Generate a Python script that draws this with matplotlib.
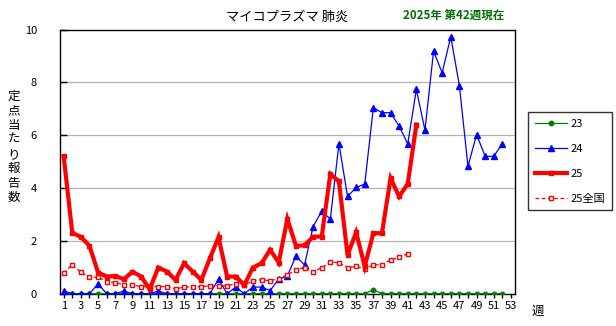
import matplotlib
matplotlib.use("Agg")
import matplotlib.pyplot as plt
import numpy as np

plt.rcParams['font.family'] = ['Noto Sans CJK JP', 'DejaVu Sans']

weeks_23 = list(range(1, 53))
vals_23 = [0]*36 + [0.15] + [0]*15

weeks_24 = list(range(1, 53))
vals_24 = [0.1, 0, 0, 0, 0.37, 0, 0, 0.1, 0, 0,
           0, 0.1, 0, 0, 0, 0, 0, 0, 0.55, 0,
           0.25, 0, 0.25, 0.25, 0.12, 0.55, 0.67, 1.42, 1.09, 2.54,
           3.13, 2.82, 5.68, 3.68, 4.02, 4.15, 7.04, 6.85, 6.85, 6.34,
           5.67, 7.73, 6.19, 9.18, 8.36, 9.73, 7.88, 4.82, 6.02, 5.20,
           5.20, 5.68]

weeks_25 = list(range(1, 43))
vals_25 = [5.2, 2.30, 2.15, 1.81, 0.80, 0.65, 0.67, 0.55, 0.83, 0.65,
           0.17, 0.99, 0.84, 0.52, 1.15, 0.84, 0.52, 1.34, 2.14, 0.65,
           0.65, 0.33, 0.99, 1.15, 1.66, 1.18, 2.83, 1.81, 1.83, 2.16,
           2.16, 4.53, 4.25, 1.47, 2.32, 1.03, 2.29, 2.29, 4.37, 3.68,
           4.16, 6.40]

weeks_nat = list(range(1, 42))
vals_nat = [0.78, 1.10, 0.82, 0.62, 0.63, 0.46, 0.42, 0.34, 0.33, 0.27,
            0.26, 0.27, 0.27, 0.19, 0.24, 0.27, 0.27, 0.30, 0.30, 0.30,
            0.38, 0.33, 0.48, 0.53, 0.49, 0.57, 0.71, 0.91, 0.99, 0.82,
            0.99, 1.19, 1.18, 0.99, 1.03, 0.95, 1.09, 1.10, 1.28, 1.37,
            1.52]

yticks = [0, 2, 4, 6, 8, 10]

fig = plt.figure(figsize=(6.16, 3.26), dpi=100)
ax = fig.add_axes([0.0982, 0.0991, 0.7383, 0.8104])

ax.plot(weeks_23, vals_23, color='#008000', lw=0.9, marker='o', ms=3.2,
        mec='#008000', mfc='#008000', label='23', zorder=3)
ax.plot(weeks_24, vals_24, color='#0000ff', lw=0.9, marker='^', ms=5,
        mec='#0000ff', mfc='#0000ff', label='24', zorder=4)
ax.plot(weeks_nat, vals_nat, color='#ff0000', lw=0.9, ls=(0, (3, 2)),
        marker='s', ms=3.5, mec='#ff0000', mfc='white', mew=1,
        label='25全国', zorder=4)
ax.plot(weeks_25, vals_25, color='#ff0000', lw=3, marker='s', ms=3.5,
        mec='#ff0000', mfc='#ff0000', label='25', zorder=5,
        solid_joinstyle='miter')

ax.set_xlim(0.63, 53.5)
ax.set_ylim(0, 10)
ax.set_xticks(range(1, 54))
ax.set_xticklabels([str(w) if w % 2 == 1 else '' for w in range(1, 54)],
                   fontsize=8)
ax.set_yticks(yticks)
ax.set_yticklabels([str(v) for v in yticks], fontsize=8)
ax.tick_params(axis='x', direction='out', length=3, width=1, pad=2)
ax.tick_params(axis='y', direction='in', length=5, width=1, pad=17)
for y in [2, 4, 6, 8]:
    ax.axhline(y, color='#b4b4b4', lw=0.9, zorder=1)
for s in ax.spines.values():
    s.set_color('black')
    s.set_linewidth(1)

handles, labels = ax.get_legend_handles_labels()
order = [labels.index(l) for l in ['23', '24', '25', '25全国']]
leg = ax.legend([handles[i] for i in order], [labels[i] for i in order],
                loc='upper left', bbox_to_anchor=(528/616, 1 - 112/326),
                bbox_transform=fig.transFigure, frameon=True, fancybox=False,
                edgecolor='black', fontsize=8, handlelength=2.9,
                labelspacing=1.35, borderpad=0.6, handletextpad=0.35,
                borderaxespad=0)
leg.get_frame().set_linewidth(1)

fig.text(287/616, 1 - 17/326, 'マイコプラズマ 肺炎', fontsize=9.5,
         ha='center', va='center')
fig.text(454/616, 1 - 16/326, '2025年 第42週現在', fontsize=8.3,
         fontweight='bold', color='#007000', ha='center', va='center')

ylabel = '定\n点\n当\nた\nり\n報\n告\n数'
fig.text(14/616, 1 - 147/326, ylabel, fontsize=9, ha='center',
         va='center', linespacing=1.15)
fig.text(538/616, 1 - 311/326, '週', fontsize=9, ha='center', va='center')

fig.savefig('out.png', dpi=100)
